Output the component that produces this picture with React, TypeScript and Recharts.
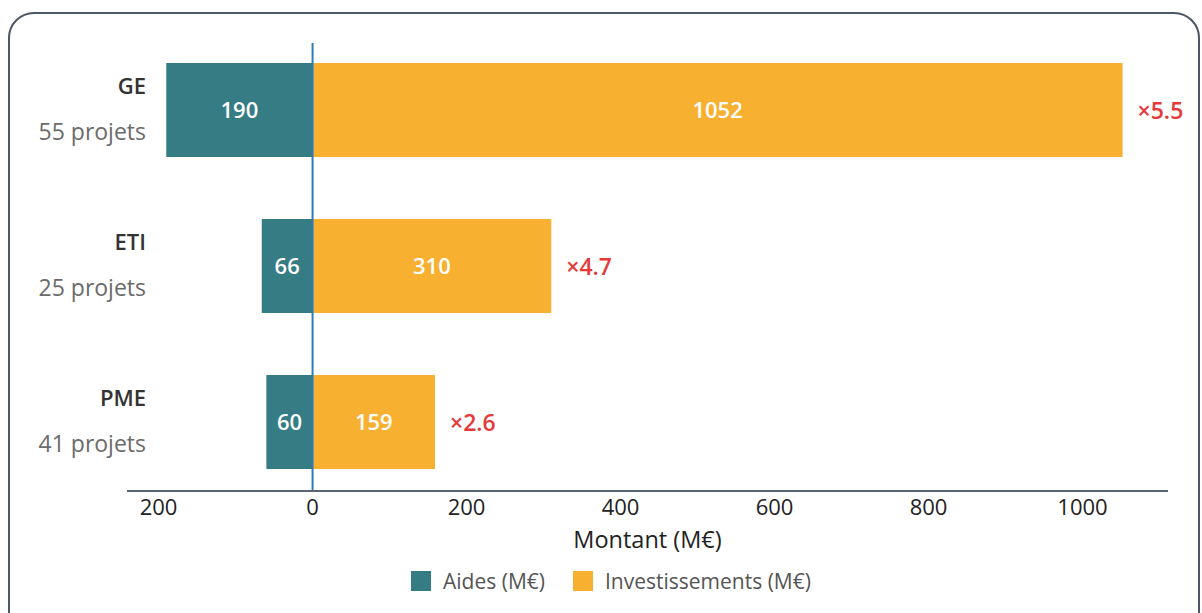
import React from 'react';
import { BarChart, Bar, XAxis, YAxis, ReferenceLine, LabelList } from 'recharts';

const categories = ['GE', 'ETI', 'PME'];
const projets = ['55 projets', '25 projets', '41 projets'];
const aides = [190, 66, 60];
const investissements = [1052, 310, 159];
const ratios = ['×5.5', '×4.7', '×2.6'];
const xTicks = [-200, 0, 200, 400, 600, 800, 1000];

const TEAL = '#357c84';
const ORANGE = '#f8b031';
const RED = '#e53a3a';
const FONT = '"Open Sans", sans-serif';

const data = categories.map((name, i) => ({
  name,
  projets: projets[i],
  aides: -aides[i],
  invest: investissements[i],
  ratio: ratios[i],
}));

function CategoryTick(props: any) {
  const { y, payload, index } = props;
  return (
    <g>
      <text x={146} y={y - 25} textAnchor="end" dominantBaseline="central"
        style={{ fontFamily: FONT, fontSize: 22, fontWeight: 600, fill: '#333' }}>
        {payload.value}
      </text>
      <text x={146} y={y + 21} textAnchor="end" dominantBaseline="central"
        style={{ fontFamily: FONT, fontSize: 23, fill: '#6b6b6b' }}>
        {projets[index]}
      </text>
    </g>
  );
}

function RatioLabel(props: any) {
  const { x, y, width, height, index } = props;
  return (
    <text x={x + width + 15} y={y + height / 2} dominantBaseline="central"
      style={{ fontFamily: FONT, fontSize: 23, fontWeight: 600, fill: RED }}>
      {ratios[index]}
    </text>
  );
}

const legendItems = [
  { label: 'Aides (M€)', color: TEAL },
  { label: 'Investissements (M€)', color: ORANGE },
];

export default function App() {
  return (
    <div style={{ position: 'fixed', left: 0, top: 0, width: 1202, height: 613, background: '#fff', overflow: 'hidden', fontFamily: FONT }}>
      {/* rounded frame */}
      <div style={{ position: 'absolute', left: 8, top: 12, width: 1192, height: 660, border: '2px solid #4d5666', borderRadius: 26, boxSizing: 'border-box' }} />
      <div style={{ position: 'absolute', left: 0, top: 0 }}>
        <BarChart
          width={1202}
          height={613}
          data={data}
          layout="vertical"
          stackOffset="sign"
          barSize={94}
          margin={{ top: 43, right: 34, bottom: 82, left: 0 }}
        >
          <XAxis
            type="number"
            domain={[-241, 1111]}
            ticks={xTicks}
            allowDataOverflow
            tickFormatter={(v: number) => String(Math.abs(v))}
            axisLine={{ stroke: '#5b6475', strokeWidth: 2 }}
            tickLine={false}
            tickSize={0}
            tickMargin={8}
            height={40}
            tick={{ fill: '#222', fontSize: 22, fontFamily: FONT }}
            label={{ value: 'Montant (M€)', position: 'bottom', offset: 0, fill: '#222', fontSize: 23.5, fontFamily: FONT }}
          />
          <YAxis
            type="category"
            dataKey="name"
            width={127}
            axisLine={false}
            tickLine={false}
            padding={{ top: -11, bottom: -9 }}
            tick={<CategoryTick />}
          />
          <Bar dataKey="aides" stackId="s" fill={TEAL} isAnimationActive={false}>
            <LabelList dataKey="aides" position="center" formatter={(v: any) => String(Math.abs(Number(v)))}
              style={{ fill: '#fff', fontSize: 22, fontWeight: 600, fontFamily: FONT }} />
          </Bar>
          <Bar dataKey="invest" stackId="s" fill={ORANGE} isAnimationActive={false}>
            <LabelList dataKey="invest" position="center"
              style={{ fill: '#fff', fontSize: 22, fontWeight: 600, fontFamily: FONT }} />
            <LabelList dataKey="ratio" content={<RatioLabel />} />
          </Bar>
          <ReferenceLine x={0} stroke="#2b7bbd" strokeWidth={2} />
        </BarChart>
      </div>
      {/* legend */}
      <div style={{ position: 'absolute', left: 411, top: 571, display: 'flex', alignItems: 'center' }}>
        {legendItems.map((it, i) => (
          <div key={it.label} style={{ display: 'flex', alignItems: 'center', marginRight: i === 0 ? 28 : 0 }}>
            <div style={{ width: 20, height: 20, background: it.color, marginRight: 12 }} />
            <span style={{ fontSize: 21, color: '#555', lineHeight: '20px' }}>{it.label}</span>
          </div>
        ))}
      </div>
    </div>
  );
}
